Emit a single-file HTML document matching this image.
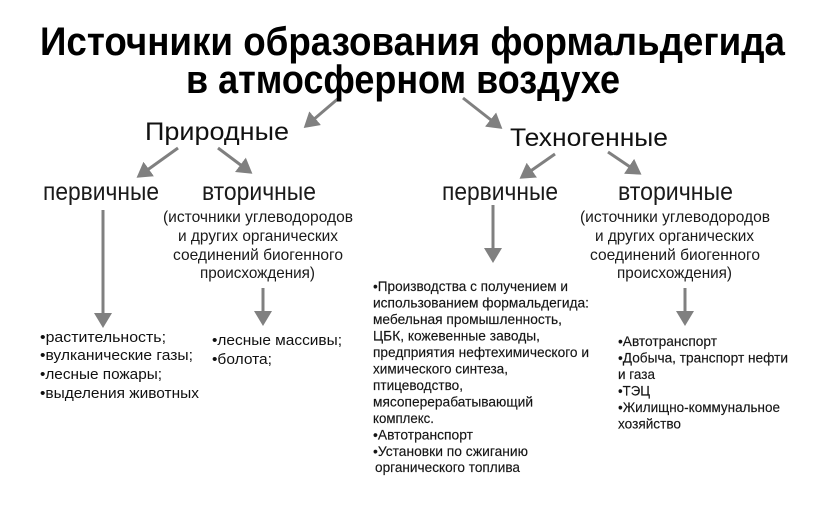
<!DOCTYPE html>
<html><head><meta charset="utf-8"><style>
html,body{margin:0;padding:0;background:#fff;}
svg{display:block;}
text{font-family:"Liberation Sans",sans-serif;fill:#111;}
.t{font-weight:bold;font-size:40px;fill:#000;}
.h{font-size:25px;fill:#111;}
.s{font-size:25px;fill:#1a1a1a;}
.p{font-size:16px;fill:#1a1a1a;}
.l{font-size:15px;fill:#111;}
.r{font-size:14px;fill:#151515;stroke:#151515;stroke-width:0.15;}
</style></head><body>
<svg width="826" height="505" viewBox="0 0 826 505" xmlns="http://www.w3.org/2000/svg">
<defs><marker id="a" markerWidth="6" markerHeight="6" refX="4" refY="3" orient="auto" markerUnits="strokeWidth"><path d="M0,0 L5,3 L0,6 z" fill="#808080"/></marker></defs>
<g stroke="#808080" stroke-width="3" marker-end="url(#a)">
<line x1="340" y1="97" x2="306" y2="126"/>
<line x1="463" y1="98" x2="500" y2="127"/>
<line x1="178" y1="148" x2="139" y2="176"/>
<line x1="218" y1="148" x2="250" y2="172"/>
<line x1="555" y1="154" x2="522" y2="177"/>
<line x1="608" y1="152" x2="639" y2="173"/>
<line x1="103" y1="210" x2="103" y2="325"/>
<line x1="263" y1="288" x2="263" y2="323"/>
<line x1="493" y1="205" x2="493" y2="260"/>
<line x1="685" y1="288" x2="685" y2="323"/>
</g>
<text class="t" x="40" y="55" textLength="745" lengthAdjust="spacingAndGlyphs">Источники образования формальдегида</text>
<text class="t" x="186" y="93" textLength="434" lengthAdjust="spacingAndGlyphs">в атмосферном воздухе</text>
<text class="h" x="145" y="140" textLength="144" lengthAdjust="spacingAndGlyphs">Природные</text>
<text class="h" x="510" y="146" textLength="158" lengthAdjust="spacingAndGlyphs">Техногенные</text>
<text class="s" x="43" y="200" textLength="116" lengthAdjust="spacingAndGlyphs">первичные</text>
<text class="s" x="202" y="200" textLength="114" lengthAdjust="spacingAndGlyphs">вторичные</text>
<text class="s" x="442" y="200" textLength="116" lengthAdjust="spacingAndGlyphs">первичные</text>
<text class="s" x="618" y="200" textLength="115" lengthAdjust="spacingAndGlyphs">вторичные</text>
<text class="p" x="163" y="222" textLength="190" lengthAdjust="spacingAndGlyphs">(источники  углеводородов</text>
<text class="p" x="178" y="241" textLength="160" lengthAdjust="spacingAndGlyphs">и  других  органических</text>
<text class="p" x="173" y="260" textLength="170" lengthAdjust="spacingAndGlyphs">соединений  биогенного</text>
<text class="p" x="200" y="278" textLength="115" lengthAdjust="spacingAndGlyphs">происхождения)</text>
<text class="p" x="580" y="222" textLength="190" lengthAdjust="spacingAndGlyphs">(источники  углеводородов</text>
<text class="p" x="595" y="241" textLength="159" lengthAdjust="spacingAndGlyphs">и  других  органических</text>
<text class="p" x="590" y="260" textLength="170" lengthAdjust="spacingAndGlyphs">соединений  биогенного</text>
<text class="p" x="617" y="278" textLength="115" lengthAdjust="spacingAndGlyphs">происхождения)</text>
<text class="l" x="40" y="342" textLength="126" lengthAdjust="spacingAndGlyphs">•растительность;</text>
<text class="l" x="40" y="360" textLength="153" lengthAdjust="spacingAndGlyphs">•вулканические  газы;</text>
<text class="l" x="40" y="379" textLength="122" lengthAdjust="spacingAndGlyphs">•лесные  пожары;</text>
<text class="l" x="40" y="398" textLength="159" lengthAdjust="spacingAndGlyphs">•выделения  животных</text>
<text class="l" x="212" y="345" textLength="130" lengthAdjust="spacingAndGlyphs">•лесные  массивы;</text>
<text class="l" x="212" y="364" textLength="60" lengthAdjust="spacingAndGlyphs">•болота;</text>
<text class="r" x="373" y="291" textLength="195" lengthAdjust="spacingAndGlyphs">•Производства с получением  и</text>
<text class="r" x="373" y="307.5" textLength="216" lengthAdjust="spacingAndGlyphs">использованием формальдегида:</text>
<text class="r" x="373" y="324" textLength="189" lengthAdjust="spacingAndGlyphs">мебельная промышленность,</text>
<text class="r" x="373" y="340.5" textLength="167" lengthAdjust="spacingAndGlyphs">ЦБК, кожевенные заводы,</text>
<text class="r" x="373" y="357" textLength="216" lengthAdjust="spacingAndGlyphs">предприятия  нефтехимического и</text>
<text class="r" x="373" y="373.5" textLength="135" lengthAdjust="spacingAndGlyphs">химического синтеза,</text>
<text class="r" x="373" y="390" textLength="90" lengthAdjust="spacingAndGlyphs">птицеводство,</text>
<text class="r" x="373" y="406.5" textLength="160" lengthAdjust="spacingAndGlyphs">мясоперерабатывающий</text>
<text class="r" x="373" y="423" textLength="61" lengthAdjust="spacingAndGlyphs">комплекс.</text>
<text class="r" x="373" y="439.5" textLength="100" lengthAdjust="spacingAndGlyphs">•Автотранспорт</text>
<text class="r" x="373" y="456" textLength="155" lengthAdjust="spacingAndGlyphs">•Установки по сжиганию</text>
<text class="r" x="375" y="472" textLength="145" lengthAdjust="spacingAndGlyphs">органического топлива</text>
<text class="r" x="618" y="346" textLength="99" lengthAdjust="spacingAndGlyphs">•Автотранспорт</text>
<text class="r" x="618" y="362.5" textLength="170" lengthAdjust="spacingAndGlyphs">•Добыча, транспорт нефти</text>
<text class="r" x="618" y="379" textLength="37" lengthAdjust="spacingAndGlyphs">и газа</text>
<text class="r" x="618" y="395.5" textLength="32" lengthAdjust="spacingAndGlyphs">•ТЭЦ</text>
<text class="r" x="618" y="412" textLength="162" lengthAdjust="spacingAndGlyphs">•Жилищно-коммунальное</text>
<text class="r" x="618" y="428.5" textLength="63" lengthAdjust="spacingAndGlyphs">хозяйство</text>
</svg>
</body></html>
